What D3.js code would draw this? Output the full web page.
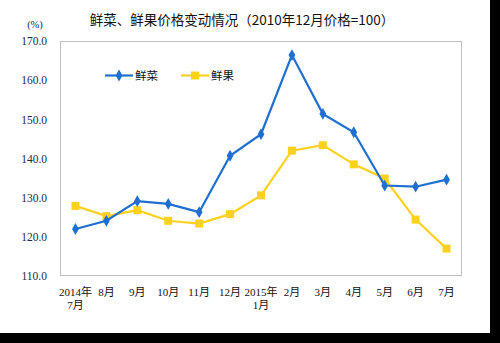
<!DOCTYPE html>
<html>
<head>
<meta charset="utf-8">
<script src="https://cdn.jsdelivr.net/npm/d3@7"></script>
<style>
  html, body { margin: 0; padding: 0; background: #fff; }
  svg { display: block; }
</style>
</head>
<body>
<svg id="chart" width="500" height="343"></svg>
<script>
// Monthly price index, Dec 2010 = 100
const months = ["2014年|7月", "8月", "9月", "10月", "11月", "12月", "2015年|1月",
                "2月", "3月", "4月", "5月", "6月", "7月"];
const vegetables = [122.0, 124.1, 129.1, 128.4, 126.3, 140.7, 146.2,
                    166.4, 151.4, 146.7, 133.1, 132.8, 134.6];
const fruits = [127.9, 125.3, 126.8, 124.1, 123.4, 125.8, 130.6,
                142.0, 143.4, 138.5, 134.9, 124.4, 117.0];
const yTicks = [110, 120, 130, 140, 150, 160, 170];
const seriesNames = ["鲜菜", "鲜果"];

const W = 500, H = 343;
const plot = { left: 60, top: 41, right: 462, bottom: 276 };
const blue = "#1f6fd0", yellow = "#fcd21e";
const labelFont = "'Liberation Serif', 'Noto Sans CJK SC', serif";
const cjkFont = "'Noto Sans CJK SC', sans-serif";

const svg = d3.select("#chart");

// outer frame: white canvas with dark margins on the right and bottom
svg.append("rect").attr("width", W).attr("height", H).attr("fill", "#000");
svg.append("rect").attr("width", 490).attr("height", 333).attr("fill", "#fff");

const x = d3.scaleBand().domain(d3.range(months.length))
  .range([plot.left, plot.right]);
const y = d3.scaleLinear().domain([110, 170]).range([plot.bottom, plot.top]);

// plot frame
svg.append("rect")
  .attr("x", plot.left + 0.5).attr("y", plot.top + 0.5)
  .attr("width", plot.right - plot.left - 1).attr("height", plot.bottom - plot.top - 1)
  .attr("fill", "#fff").attr("stroke", "#c0c0c0");

// y axis labels
const yAxis = d3.axisLeft(y).tickValues(yTicks).tickFormat(d3.format(".1f"))
  .tickSize(0).tickPadding(13);
const gy = svg.append("g").attr("transform", `translate(${plot.left},0)`).call(yAxis);
gy.select(".domain").remove();
gy.selectAll("text").attr("font-family", labelFont).attr("font-size", 11.5)
  .attr("fill", "#1b2a4a");

svg.append("text").attr("x", 35).attr("y", 28).attr("text-anchor", "middle")
  .attr("font-family", labelFont).attr("font-size", 10.5).attr("fill", "#1b2a4a")
  .text("(%)");

// x axis labels (two-line for year-start months)
const xAxis = d3.axisBottom(x).tickSize(0).tickFormat(() => "");
const gx = svg.append("g").attr("transform", `translate(0,${plot.bottom})`).call(xAxis);
gx.select(".domain").remove();
gx.selectAll(".tick").each(function(d) {
  const parts = months[d].split("|");
  const t = d3.select(this).append("text")
    .attr("text-anchor", "middle").attr("font-family", labelFont)
    .attr("font-size", 11).attr("fill", "#111");
  parts.forEach((p, i) => {
    t.append("tspan").attr("x", 0).attr("y", 20 + i * 13).text(p);
  });
});

// title
svg.append("text").attr("x", 242).attr("y", 25).attr("text-anchor", "middle")
  .attr("font-family", cjkFont).attr("font-size", 13.5).attr("fill", "#111")
  .text("鲜菜、鲜果价格变动情况（2010年12月价格=100）");

const cx = i => x(i) + x.bandwidth() / 2;
const line = d3.line().x((d, i) => cx(i)).y(d => y(d));

const diamond = d3.symbol().type(d3.symbolDiamond).size(40);
const square = d3.symbol().type(d3.symbolSquare).size(64);

// fruit series
svg.append("path").datum(fruits).attr("d", line)
  .attr("fill", "none").attr("stroke", yellow).attr("stroke-width", 2.2);
svg.selectAll(".fpt").data(fruits).join("path").attr("class", "fpt")
  .attr("transform", (d, i) => `translate(${cx(i)},${y(d)})`)
  .attr("d", square).attr("fill", yellow);

// vegetable series
svg.append("path").datum(vegetables).attr("d", line)
  .attr("fill", "none").attr("stroke", blue).attr("stroke-width", 2.2);
svg.selectAll(".vpt").data(vegetables).join("path").attr("class", "vpt")
  .attr("transform", (d, i) => `translate(${cx(i)},${y(d)})`)
  .attr("d", diamond).attr("fill", blue);

// legend
const legend = [
  { name: seriesNames[0], color: blue, sym: diamond, x0: 105 },
  { name: seriesNames[1], color: yellow, sym: square, x0: 181 }
];
const ly = 75.5;
legend.forEach(l => {
  svg.append("line").attr("x1", l.x0).attr("x2", l.x0 + 28)
    .attr("y1", ly).attr("y2", ly).attr("stroke", l.color).attr("stroke-width", 2.2);
  svg.append("path").attr("transform", `translate(${l.x0 + 14},${ly})`)
    .attr("d", l.sym).attr("fill", l.color);
  svg.append("text").attr("x", l.x0 + 30).attr("y", ly + 4.5)
    .attr("font-family", cjkFont).attr("font-size", 11.5).attr("fill", "#111")
    .text(l.name);
});
</script>
</body>
</html>
